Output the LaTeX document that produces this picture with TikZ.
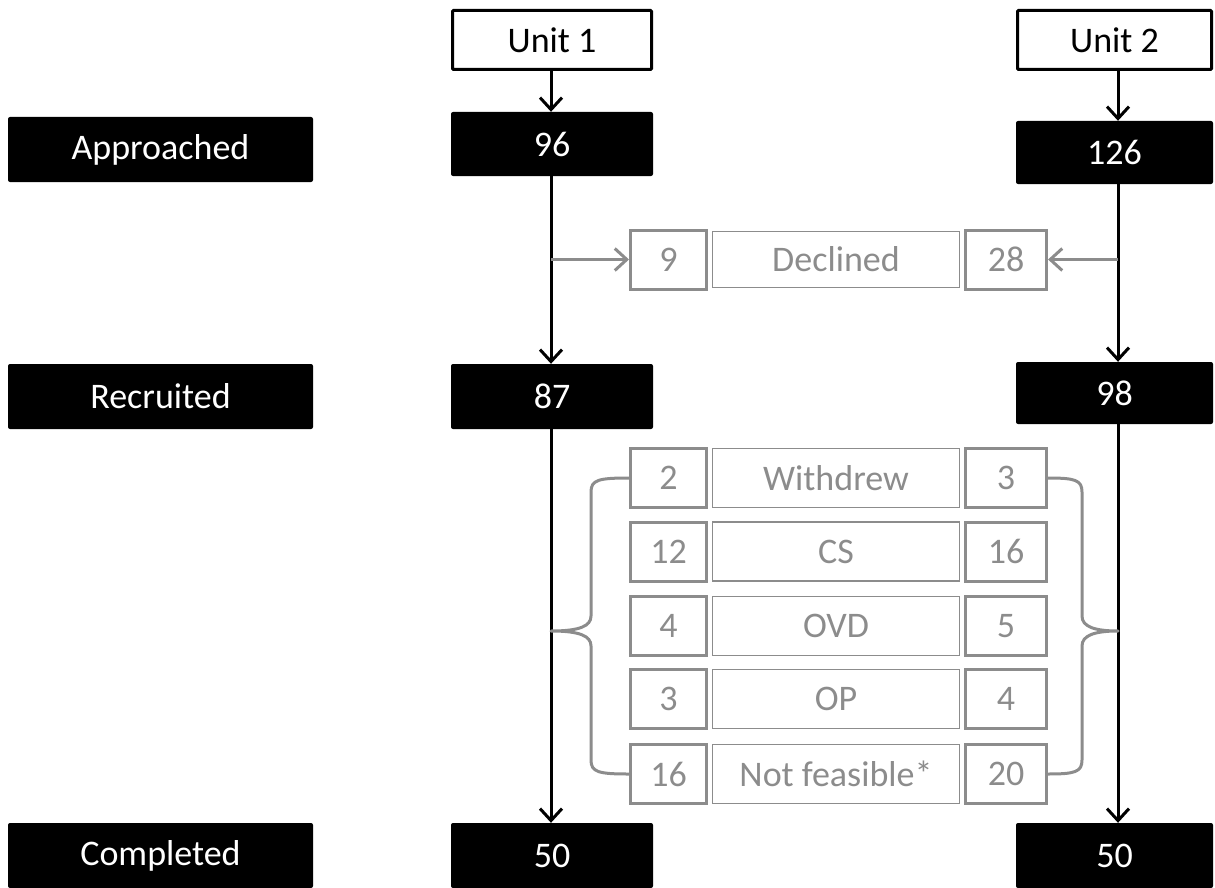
\documentclass[tikz,border=0pt]{standalone}
\usepackage{fontspec}
\setmainfont{Carlito}
\usetikzlibrary{arrows.meta}
\definecolor{gr}{HTML}{8C8C8C}
\tikzset{
  blk/.style={fill=black, text=white, rounded corners=2pt, inner sep=0pt, font=\fontsize{36}{42}\selectfont},
  unitbox/.style={draw=black, line width=3pt, fill=white, inner sep=0pt, rounded corners=1pt, font=\fontsize{36}{42}\selectfont},
  numbox/.style={draw=gr, line width=3pt, text=gr, inner sep=0pt, minimum height=59pt, font=\fontsize{36}{42}\selectfont},
  labbox/.style={draw=gr, line width=1.5pt, text=gr, inner sep=0pt, minimum width=247pt, minimum height=59pt, font=\fontsize{36}{42}\selectfont},
  flow/.style={line width=3pt, -{Straight Barb[length=12pt,width=22pt,line width=3pt]}},
  gflow/.style={draw=gr, line width=3pt, -{Straight Barb[length=12pt,width=22pt,line width=3pt]}},
  brace/.style={draw=gr, line width=3pt, line join=round}
}
\begin{document}
\begin{tikzpicture}[x=1pt,y=-1pt]
\useasboundingbox (0,0) rectangle (1215,888);
% left labels
\node[blk, minimum width=305pt, minimum height=65pt] (appr) at (160.5,149.5) {Approached};
\node[blk, minimum width=305pt, minimum height=65pt] (recr) at (160.5,396.5) {Recruited};
\node[blk, minimum width=305pt, minimum height=65pt] (comp) at (160.5,855.5) {Completed};
% units
\node[unitbox, minimum width=199pt, minimum height=59pt] (u1) at (552,40) {Unit 1};
\node[unitbox, minimum width=194pt, minimum height=59pt] (u2) at (1114.5,40) {Unit 2};
% counts
\node[blk, minimum width=202pt, minimum height=64pt] (n96) at (552,144) {96};
\node[blk, minimum width=197pt, minimum height=63pt] (n126) at (1114.5,152.5) {126};
\node[blk, minimum width=202pt, minimum height=65pt] (n87) at (552,396.5) {87};
\node[blk, minimum width=197pt, minimum height=62pt] (n98) at (1114.5,393) {98};
\node[blk, minimum width=202pt, minimum height=65pt] (n50a) at (552,855.5) {50};
\node[blk, minimum width=197pt, minimum height=65pt] (n50b) at (1114.5,855.5) {50};
\coordinate (xl) at (551,0);
\coordinate (xr) at (1118,0);
% declined row
\node[numbox, minimum width=76pt] (d9) at (668.5,259.5) {9};
\node[labbox, minimum height=56pt] (dl) at (836,259.5) {Declined};
\node[numbox, minimum width=81pt] (d28) at (1006,259.5) {28};
% exclusion rows
\foreach \nm/\a/\t/\b/\y in {w/2/Withdrew/3/478, c/12/CS/16/551.5, o/4/OVD/5/626, p/3/OP/4/699, f/16/Not feasible*/20/774}{
  \node[numbox, minimum width=76pt] (\nm a) at (668.5,\y) {\a};
  \node[labbox] (\nm l) at (836,\y) {\t};
  \node[numbox, minimum width=81pt] (\nm b) at (1006,\y) {\b};
}
% flow arrows
\draw[flow] (u1.south -| xl) -- (n96.north -| xl);
\draw[flow] (u2.south -| xr) -- (n126.north -| xr);
\draw[flow] (n96.south -| xl) -- (n87.north -| xl);
\draw[flow] (n126.south -| xr) -- (n98.north -| xr);
\draw[flow] (n87.south -| xl) -- (n50a.north -| xl);
\draw[flow] (n98.south -| xr) -- (n50b.north -| xr);
% declined arrows
\draw[gflow] (xl |- d9) -- (d9.west);
\draw[gflow] (xr |- d28) -- (d28.east);
% braces
\coordinate (tl) at (551,631);
\coordinate (tr) at (1118,631);
\draw[brace] (wa.west) .. controls (598,478) and (591,480) .. (591,492) -- (591,616)
  .. controls (591,626) and (580,631) .. (tl)
  .. controls (580,631) and (591,636) .. (591,646) -- (591,760)
  .. controls (591,772) and (598,774) .. (fa.west);
\draw[brace] (wb.east) .. controls (1075,478) and (1082,480) .. (1082,492) -- (1082,616)
  .. controls (1082,626) and (1093,631) .. (tr)
  .. controls (1093,631) and (1082,636) .. (1082,646) -- (1082,760)
  .. controls (1082,772) and (1075,774) .. (fb.east);
\end{tikzpicture}
\end{document}
